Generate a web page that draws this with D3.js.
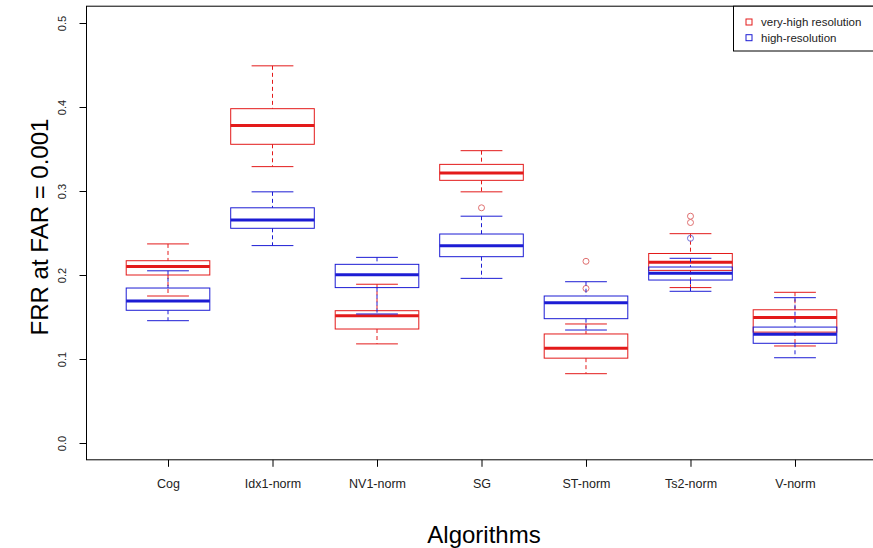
<!DOCTYPE html>
<html>
<head>
<meta charset="utf-8">
<script src="https://cdn.jsdelivr.net/npm/d3@7"></script>
<style>
  body { margin: 0; background: #fff; }
  svg { display: block; font-family: "Liberation Sans", Arial, sans-serif; }
</style>
</head>
<body>
<script>
// Kategorier (algoritmer)
var algorithms = ["Cog", "Idx1-norm", "NV1-norm", "SG", "ST-norm", "Ts2-norm", "V-norm"];
var seriesNames = ["very-high resolution", "high-resolution"];
var yTicks = [0.0, 0.1, 0.2, 0.3, 0.4, 0.5];

// very-high resolution: whisker låg, Q1, median, Q3, whisker hög, outliers
var vhrLow    = [0.175, 0.329, 0.118, 0.299, 0.0825, 0.185, 0.1155];
var vhrQ1     = [0.200, 0.3556, 0.1357, 0.3127, 0.101, 0.2055, 0.132];
var vhrMedian = [0.210, 0.378, 0.1516, 0.3214, 0.1127, 0.2151, 0.1495];
var vhrQ3     = [0.217, 0.398, 0.1575, 0.3317, 0.1298, 0.2256, 0.1586];
var vhrHigh   = [0.237, 0.449, 0.189, 0.348, 0.1417, 0.2492, 0.1794];
var vhrOut    = [[], [], [], [0.280], [0.2163, 0.184], [0.270, 0.2625], []];

// high-resolution
var hrLow    = [0.1456, 0.235, 0.1536, 0.196, 0.1345, 0.1806, 0.1015];
var hrQ1     = [0.158, 0.2556, 0.185, 0.2218, 0.148, 0.194, 0.1187];
var hrMedian = [0.169, 0.2655, 0.2004, 0.2349, 0.167, 0.2022, 0.1294];
var hrQ3     = [0.1845, 0.280, 0.2127, 0.2488, 0.175, 0.2095, 0.138];
var hrHigh   = [0.205, 0.299, 0.221, 0.270, 0.192, 0.2199, 0.173];
var hrOut    = [[], [], [], [], [], [0.2437], []];

function drawBoxplots()
{
    var width = 873, height = 548;
    var left = 86.5, right = 876.5, top = 6.2, bottom = 459.8;

    var xScale = d3.scalePoint()
        .domain(algorithms)
        .range([left, right])
        .padding(0.78);
    var yScale = d3.scaleLinear()
        .domain([-0.02, 0.52])
        .range([bottom, top]);

    var step = xScale.step();
    var boxW = step * 0.8, capW = step * 0.4;

    var canvas = d3.select("body")
        .append("svg")
        .attr("width", width)
        .attr("height", height);

    // Bygg tabell för varje serie
    var series = [
        { name: seriesNames[0], color: "#e31a1a", outColor: "#e07070",
          low: vhrLow, q1: vhrQ1, med: vhrMedian, q3: vhrQ3, high: vhrHigh, out: vhrOut },
        { name: seriesNames[1], color: "#1c1cd4", outColor: "#7070d8",
          low: hrLow, q1: hrQ1, med: hrMedian, q3: hrQ3, high: hrHigh, out: hrOut }
    ];

    series.forEach(function(s) {
        var rows = algorithms.map(function(a, i) {
            return { alg: a, low: s.low[i], q1: s.q1[i], med: s.med[i],
                     q3: s.q3[i], high: s.high[i], out: s.out[i] };
        });
        var g = canvas.append("g");
        var grp = g.selectAll("g.box").data(rows).enter().append("g");

        // whiskers (streckade)
        grp.append("line")
            .attr("x1", function(d) { return xScale(d.alg); })
            .attr("x2", function(d) { return xScale(d.alg); })
            .attr("y1", function(d) { return yScale(d.high); })
            .attr("y2", function(d) { return yScale(d.q3); })
            .attr("stroke", s.color).attr("stroke-dasharray", "4,3");
        grp.append("line")
            .attr("x1", function(d) { return xScale(d.alg); })
            .attr("x2", function(d) { return xScale(d.alg); })
            .attr("y1", function(d) { return yScale(d.q1); })
            .attr("y2", function(d) { return yScale(d.low); })
            .attr("stroke", s.color).attr("stroke-dasharray", "4,3");

        // staples
        ["high", "low"].forEach(function(k) {
            grp.append("line")
                .attr("x1", function(d) { return xScale(d.alg) - capW / 2; })
                .attr("x2", function(d) { return xScale(d.alg) + capW / 2; })
                .attr("y1", function(d) { return yScale(d[k]); })
                .attr("y2", function(d) { return yScale(d[k]); })
                .attr("stroke", s.color);
        });

        // lådor
        grp.append("rect")
            .attr("x", function(d) { return xScale(d.alg) - boxW / 2; })
            .attr("width", boxW)
            .attr("y", function(d) { return yScale(d.q3); })
            .attr("height", function(d) { return yScale(d.q1) - yScale(d.q3); })
            .attr("fill", "none")
            .attr("stroke", s.color);

        // median
        grp.append("line")
            .attr("x1", function(d) { return xScale(d.alg) - boxW / 2; })
            .attr("x2", function(d) { return xScale(d.alg) + boxW / 2; })
            .attr("y1", function(d) { return yScale(d.med); })
            .attr("y2", function(d) { return yScale(d.med); })
            .attr("stroke", s.color).attr("stroke-width", 3);

        // outliers
        grp.selectAll("circle")
            .data(function(d) { return d.out.map(function(v) { return { alg: d.alg, v: v }; }); })
            .enter().append("circle")
            .attr("cx", function(d) { return xScale(d.alg); })
            .attr("cy", function(d) { return yScale(d.v); })
            .attr("r", 3)
            .attr("fill", "none")
            .attr("stroke", s.outColor);
    });

    // Ram runt plotten
    canvas.append("rect")
        .attr("x", left).attr("y", top)
        .attr("width", right - left).attr("height", bottom - top)
        .attr("fill", "none").attr("stroke", "#000");

    // Y-axel
    var yAxis = d3.axisLeft(yScale).tickValues(yTicks).tickSize(7).tickSizeOuter(0)
        .tickFormat(d3.format(".1f"));
    var yg = canvas.append("g").attr("transform", "translate(" + left + ",0)").call(yAxis);
    yg.select(".domain").remove();
    yg.selectAll("text")
        .attr("x", null).attr("dy", "0.35em")
        .attr("transform", "translate(-24,0) rotate(-90)")
        .attr("text-anchor", "middle")
        .attr("font-size", 11).attr("font-family", null).attr("fill", "#222");

    // X-axel
    var xAxis = d3.axisBottom(xScale).tickSize(7).tickSizeOuter(0);
    var xg = canvas.append("g").attr("transform", "translate(0," + bottom + ")").call(xAxis);
    xg.select(".domain").remove();
    xg.selectAll("text")
        .attr("y", 28).attr("dy", null)
        .attr("font-size", 12.5).attr("font-family", null).attr("fill", "#222");

    // Axeltitlar
    canvas.append("text")
        .attr("transform", "translate(48,227) rotate(-90)")
        .attr("text-anchor", "middle")
        .attr("font-size", 24)
        .text("FRR at FAR = 0.001");
    canvas.append("text")
        .attr("x", 484).attr("y", 543)
        .attr("text-anchor", "middle")
        .attr("font-size", 24)
        .text("Algorithms");

    // Legend
    var legend = canvas.append("g");
    legend.append("rect")
        .attr("x", 733.5).attr("y", top)
        .attr("width", 150).attr("height", 51 - top)
        .attr("fill", "#fff").attr("stroke", "#000");
    series.forEach(function(s, i) {
        var cy = 22 + i * 15.7;
        legend.append("rect")
            .attr("x", 746).attr("y", cy - 3)
            .attr("width", 6).attr("height", 6)
            .attr("fill", "none").attr("stroke", s.color);
        legend.append("text")
            .attr("x", 761).attr("y", cy).attr("dy", "0.35em")
            .attr("font-size", 11.5).attr("fill", "#222")
            .text(s.name);
    });
}

drawBoxplots();
</script>
</body>
</html>
